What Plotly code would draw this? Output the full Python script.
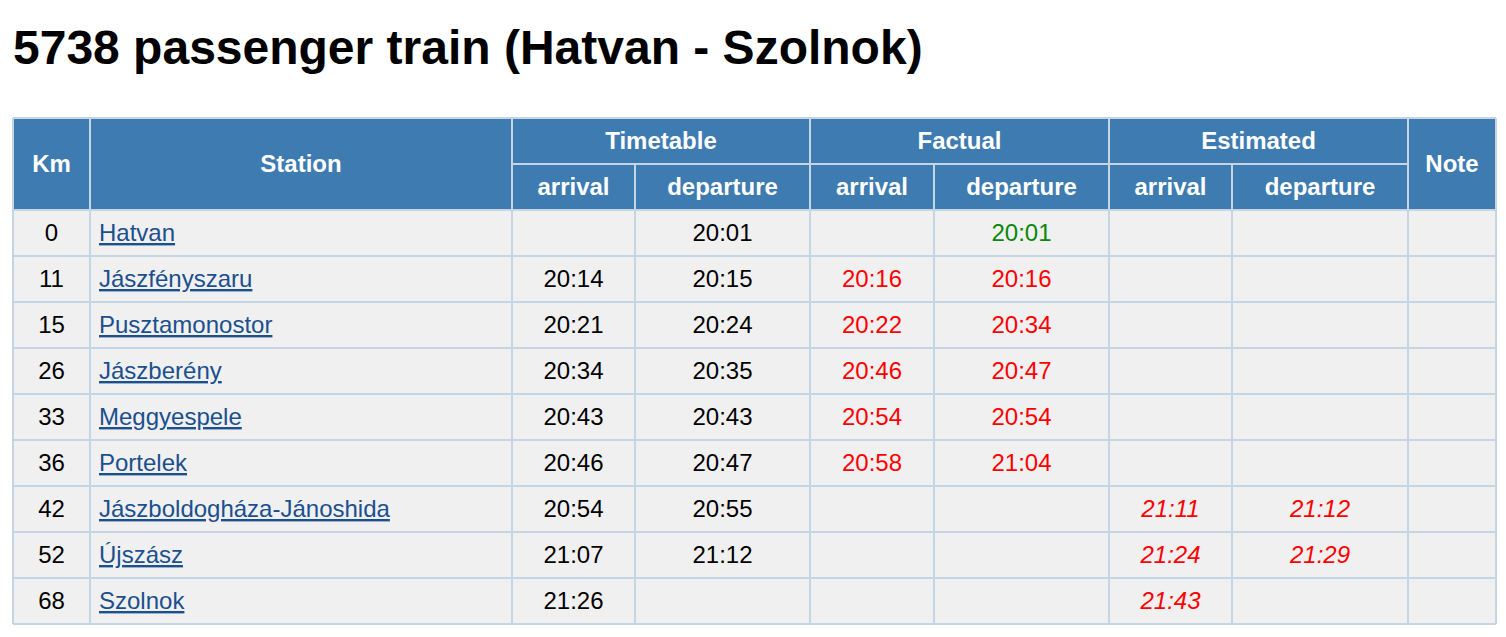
import plotly.graph_objects as go

# chart data
TITLE = "5738 passenger train (Hatvan - Szolnok)"
km = [0, 11, 15, 26, 33, 36, 42, 52, 68]
stations = ["Hatvan", "Jászfényszaru", "Pusztamonostor", "Jászberény", "Meggyespele",
            "Portelek", "Jászboldogháza-Jánoshida", "Újszász", "Szolnok"]
tt_arrival = ["", "20:14", "20:21", "20:34", "20:43", "20:46", "20:54", "21:07", "21:26"]
tt_departure = ["20:01", "20:15", "20:24", "20:35", "20:43", "20:47", "20:55", "21:12", ""]
fact_arrival = ["", "20:16", "20:22", "20:46", "20:54", "20:58", "", "", ""]
fact_departure = ["20:01", "20:16", "20:34", "20:47", "20:54", "21:04", "", "", ""]
est_arrival = ["", "", "", "", "", "", "21:11", "21:24", "21:43"]
est_departure = ["", "", "", "", "", "", "21:12", "21:29", ""]
notes = [""] * 9

groups = ["Timetable", "Factual", "Estimated"]
sub_headers = ["arrival", "departure"]

# layout of the table (page pixels; the html body adds an 8px margin)
PAGE_W, PAGE_H = 1506, 637
OFFSET = 8
# last edge pulled in a little so the right border stays inside the visible page
COL_EDGES = [13, 90, 512, 635, 810, 934, 1109, 1232, 1408, 1496]
ROW_PX = 46
ROW0_PX = 233  # pixel centre of first body row
TEXT_DY = 2 / ROW_PX  # nudge text down a little inside the cells

HEADER_BG = "#3e7bb1"
BODY_BG = "#f0f0f0"
BORDER = "#c6d5e3"
LINK = "#1b4f8e"
LATE = "#ff0000"
ON_TIME = "#0a870a"
FONT = "Liberation Sans"
SIZE = 24

n = len(km)


def centre(i):
    return (COL_EDGES[i] + COL_EDGES[i + 1]) / 2


def row_of(px):
    return (px - ROW0_PX) / ROW_PX


def status_colors(actual, planned):
    return [LATE if a and p and a > p else ON_TIME for a, p in zip(actual, planned)]


rows = list(range(n))
fig = go.Figure()


def add_text(x, y, text, color="black", pos="middle center", bold=False, italic=False):
    fig.add_trace(go.Scatter(
        x=x, y=[v + TEXT_DY for v in y], text=text, mode="text", textposition=pos,
        hoverinfo="skip",
        textfont=dict(family=FONT, size=SIZE, color=color,
                      weight="bold" if bold else "normal",
                      style="italic" if italic else "normal"),
        showlegend=False))


# backgrounds
fig.add_shape(type="rect", x0=COL_EDGES[0], x1=COL_EDGES[-1], y0=-2.5, y1=-0.5,
              fillcolor=HEADER_BG, line_width=0, layer="below")
fig.add_shape(type="rect", x0=COL_EDGES[0], x1=COL_EDGES[-1], y0=-0.5, y1=n - 0.5,
              fillcolor=BODY_BG, line_width=0, layer="below")

# grid lines
line = dict(color=BORDER, width=2)
for r in [-2.5] + [i - 0.5 for i in range(n + 1)]:
    fig.add_shape(type="line", x0=COL_EDGES[0], x1=COL_EDGES[-1], y0=r, y1=r, line=line)
fig.add_shape(type="line", x0=COL_EDGES[2], x1=COL_EDGES[8], y0=-1.5, y1=-1.5, line=line)
for j, xe in enumerate(COL_EDGES):
    top = -1.5 if j in (3, 5, 7) else -2.5
    fig.add_shape(type="line", x0=xe, x1=xe, y0=top, y1=n - 0.5, line=line)

# header
add_text([centre(0), centre(1), centre(8)], [-1.5] * 3, ["Km", "Station", "Note"],
         color="white", bold=True)
add_text([(COL_EDGES[2 + 2 * g] + COL_EDGES[4 + 2 * g]) / 2 for g in range(3)], [-2] * 3,
         groups, color="white", bold=True)
add_text([centre(c) for c in range(2, 8)], [-1] * 6, sub_headers * 3,
         color="white", bold=True)

# body
add_text([centre(0)] * n, rows, [str(k) for k in km])
add_text([COL_EDGES[1] + 9] * n, rows, ["<u>%s</u>" % s for s in stations],
         color=LINK, pos="middle right")
add_text([centre(2)] * n, rows, tt_arrival)
add_text([centre(3)] * n, rows, tt_departure)
add_text([centre(4)] * n, rows, fact_arrival, color=status_colors(fact_arrival, tt_arrival))
add_text([centre(5)] * n, rows, fact_departure, color=status_colors(fact_departure, tt_departure))
add_text([centre(6)] * n, rows, est_arrival, color=status_colors(est_arrival, tt_arrival), italic=True)
add_text([centre(7)] * n, rows, est_departure, color=status_colors(est_departure, tt_departure), italic=True)
add_text([centre(8)] * n, rows, notes)

# title
fig.add_annotation(x=COL_EDGES[0] - 2, y=row_of(47), text="<b>%s</b>" % TITLE,
                   showarrow=False, xanchor="left", yanchor="middle",
                   font=dict(family=FONT, size=48, color="black"))

# keep the page from scrolling: plot fits inside the window minus the body margin
plot_w = PAGE_W - 2 * OFFSET
plot_h = PAGE_H - 2 * OFFSET
fig.update_xaxes(range=[OFFSET, OFFSET + plot_w], visible=False, fixedrange=True)
fig.update_yaxes(range=[row_of(OFFSET + plot_h), row_of(OFFSET)], visible=False, fixedrange=True)
fig.update_layout(width=plot_w, height=plot_h,
                  margin=dict(l=0, r=0, t=0, b=0),
                  plot_bgcolor="white", paper_bgcolor="white", autosize=False)

fig.write_html("out.html")
